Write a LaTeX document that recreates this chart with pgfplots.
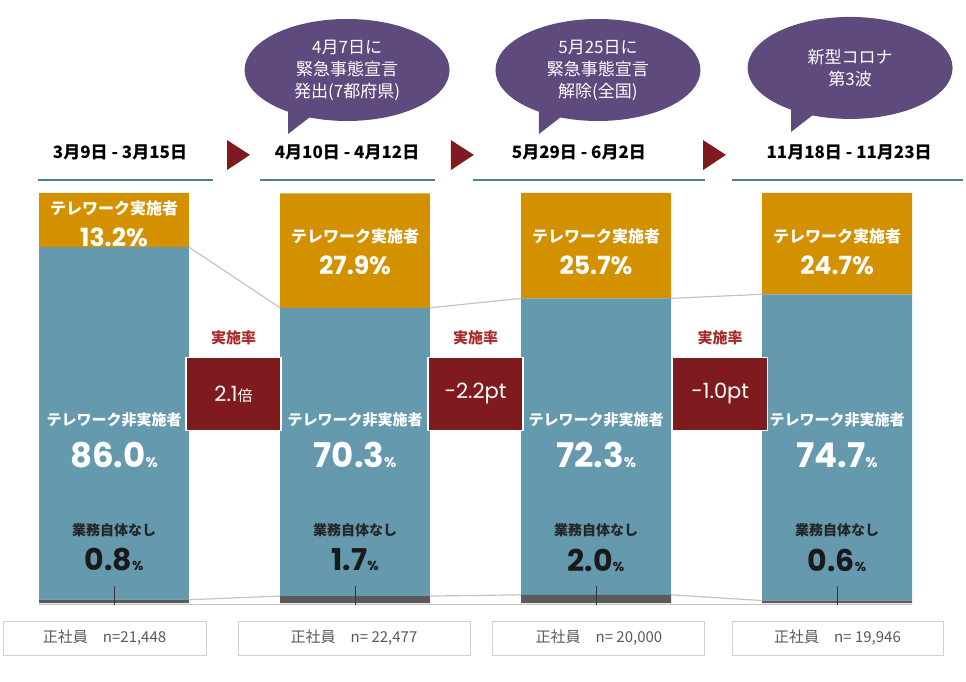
\documentclass[border=0pt]{standalone}
\usepackage{fontspec}
\usepackage{pgfplots}
\usepackage{pgfplotstable}
\pgfplotsset{compat=1.18}
\usetikzlibrary{shapes.geometric}
\setmainfont{Noto Sans CJK JP}
\newfontfamily\num{Poppins}

\definecolor{tworange}{HTML}{D39100}
\definecolor{twblue}{HTML}{6499AE}
\definecolor{twgray}{HTML}{5A5A5A}
\definecolor{boxred}{HTML}{7F1A1E}
\definecolor{bubble}{HTML}{5F4A7E}
\definecolor{rulec}{HTML}{4F8090}
\definecolor{lblred}{HTML}{A82B2B}
\definecolor{linkc}{HTML}{C4C4C4}
\definecolor{ntext}{HTML}{595959}

% share of regular employees (%): no work / not teleworking / teleworking
\pgfplotstableread{
x none nontw tw
0 0.8 86.0 13.2
1 1.7 70.3 27.9
2 2.0 72.3 25.7
3 0.6 74.7 24.7
}\shares

\pgfplotsset{canvas/.style={
  width=966pt, height=681pt, scale only axis,
  xmin=-0.473, xmax=3.535, ymin=-19.02, ymax=147.07,
  hide axis, clip=false}}

\newcommand{\fs}[2]{\fontsize{#1}{#2}\selectfont}

% speech bubble: centre x, centre y, text
\newcommand{\bubble}[3]{%
  \fill[bubble] ([shift={(-59pt,-30pt)}]axis cs:#1,#2) -- ([shift={(-59pt,-64pt)}]axis cs:#1,#2)
     -- ([shift={(-28pt,-40pt)}]axis cs:#1,#2) -- cycle;
  \node[ellipse, fill=bubble, minimum width=205pt, minimum height=102pt, inner sep=0pt,
        text=white, align=center, font=\fs{17}{22}] at (axis cs:#1,#2) {#3};}

% change box between two periods
\newcommand{\chg}[3]{%
  \node[text=lblred, font=\bfseries\fs{15}{18}] at (axis cs:#1,64.6) {実施率};
  \node[fill=boxred, draw=white, line width=1.5pt, minimum width=95pt, minimum height=73pt,
        text=white, inner sep=0pt] at (axis cs:#1,51.0) {#2#3};}

\begin{document}
\begin{tikzpicture}
\path (0,0) rectangle (966pt,681pt);
\begin{axis}[canvas, at={(0,0)}, anchor=south west, ybar stacked, bar width=0.622]
\addplot[fill=twgray, draw=none] table[x=x, y=none] {\shares};
\addplot[fill=twblue, draw=none] table[x=x, y=nontw] {\shares};
\addplot[fill=tworange, draw=none] table[x=x, y=tw] {\shares};
\end{axis}

\begin{axis}[canvas, at={(0,0)}, anchor=south west]
% links between the teleworking boundaries
\addplot[linkc, line width=1.2pt] coordinates {(0.311,86.8) (0.689,72.0)};
\addplot[linkc, line width=1.2pt] coordinates {(1.311,72.0) (1.689,74.3)};
\addplot[linkc, line width=1.2pt] coordinates {(2.311,74.3) (2.689,75.3)};
% links between the "no work" boundaries and the baseline
\addplot[linkc, line width=1.2pt] coordinates {(0.311,0.8) (0.689,1.7)};
\addplot[linkc, line width=1.2pt] coordinates {(1.311,1.7) (1.689,2.0)};
\addplot[linkc, line width=1.2pt] coordinates {(2.311,2.0) (2.689,0.6)};
\addplot[linkc, line width=1pt] coordinates {(-0.311,-0.4) (3.311,-0.4)};

% centre ticks
\draw[black!80, line width=1pt] (axis cs:0,-0.6) -- (axis cs:0,4.1);
\draw[black!80, line width=1pt] (axis cs:1,-0.6) -- (axis cs:1,4.1);
\draw[black!80, line width=1pt] (axis cs:2,-0.6) -- (axis cs:2,4.1);
\draw[black!80, line width=1pt] (axis cs:3,-0.6) -- (axis cs:3,4.1);

% periods
\node[font=\bfseries\fs{17}{20}] at (axis cs:0.025,109.8) {3月9日 - 3月15日};
\node[font=\bfseries\fs{17}{20}] at (axis cs:0.967,109.8) {4月10日 - 4月12日};
\node[font=\bfseries\fs{17}{20}] at (axis cs:1.929,109.8) {5月29日 - 6月2日};
\node[font=\bfseries\fs{17}{20}] at (axis cs:3.050,109.8) {11月18日 - 11月23日};
\draw[rulec, line width=1.6pt] (axis cs:-0.315,103.2) -- (axis cs:0.411,103.2);
\draw[rulec, line width=1.6pt] (axis cs:0.606,103.2) -- (axis cs:1.332,103.2);
\draw[rulec, line width=1.6pt] (axis cs:1.490,103.2) -- (axis cs:2.452,103.2);
\draw[rulec, line width=1.6pt] (axis cs:2.564,103.2) -- (axis cs:3.523,103.2);
\fill[boxred] (axis cs:0.469,112.9) -- (axis cs:0.469,105.6) -- (axis cs:0.564,109.3) -- cycle;
\fill[boxred] (axis cs:1.398,112.9) -- (axis cs:1.398,105.6) -- (axis cs:1.493,109.3) -- cycle;
\fill[boxred] (axis cs:2.444,112.9) -- (axis cs:2.444,105.6) -- (axis cs:2.539,109.3) -- cycle;

% events
\bubble{0.967}{130.0}{4月7日に\\緊急事態宣言\\発出(7都府県)}
\bubble{2.008}{130.0}{5月25日に\\緊急事態宣言\\解除(全国)}
\bubble{3.054}{130.5}{新型コロナ\\第3波}

% teleworking
\node[text=white, font=\bfseries\fs{16}{18}] at (axis cs:0,96.3) {テレワーク実施者};
\node[text=white, font=\num\bfseries\fs{25}{28}] at (axis cs:0,89.3) {13.2\%};
\node[text=white, font=\bfseries\fs{16}{18}] at (axis cs:1,89.5) {テレワーク実施者};
\node[text=white, font=\num\bfseries\fs{25}{28}] at (axis cs:1,82.4) {27.9\%};
\node[text=white, font=\bfseries\fs{16}{18}] at (axis cs:2,89.5) {テレワーク実施者};
\node[text=white, font=\num\bfseries\fs{25}{28}] at (axis cs:2,82.4) {25.7\%};
\node[text=white, font=\bfseries\fs{16}{18}] at (axis cs:3,89.5) {テレワーク実施者};
\node[text=white, font=\num\bfseries\fs{25}{28}] at (axis cs:3,82.4) {24.7\%};

% not teleworking
\node[text=white, font=\bfseries\fs{15}{18}] at (axis cs:0,44.6) {テレワーク非実施者};
\node[text=white, font=\num\bfseries\fs{34}{36}] at (axis cs:0,36.1) {86.0{\fs{14}{16}\%}};
\node[text=white, font=\bfseries\fs{15}{18}] at (axis cs:1,44.6) {テレワーク非実施者};
\node[text=white, font=\num\bfseries\fs{34}{36}] at (axis cs:1,36.1) {70.3{\fs{14}{16}\%}};
\node[text=white, font=\bfseries\fs{15}{18}] at (axis cs:2,44.6) {テレワーク非実施者};
\node[text=white, font=\num\bfseries\fs{34}{36}] at (axis cs:2,36.1) {72.3{\fs{14}{16}\%}};
\node[text=white, font=\bfseries\fs{15}{18}] at (axis cs:3,44.6) {テレワーク非実施者};
\node[text=white, font=\num\bfseries\fs{34}{36}] at (axis cs:3,36.1) {74.7{\fs{14}{16}\%}};

% no work at all
\node[text=black!85, font=\bfseries\fs{14}{16}] at (axis cs:0,17.8) {業務自体なし};
\node[text=black!90, font=\num\bfseries\fs{30}{32}] at (axis cs:0,10.5) {0.8{\fs{13}{15}\%}};
\node[text=black!85, font=\bfseries\fs{14}{16}] at (axis cs:1,17.8) {業務自体なし};
\node[text=black!90, font=\num\bfseries\fs{30}{32}] at (axis cs:1,10.5) {1.7{\fs{13}{15}\%}};
\node[text=black!85, font=\bfseries\fs{14}{16}] at (axis cs:2,17.8) {業務自体なし};
\node[text=black!90, font=\num\bfseries\fs{30}{32}] at (axis cs:2,10.5) {2.0{\fs{13}{15}\%}};
\node[text=black!85, font=\bfseries\fs{14}{16}] at (axis cs:3,17.8) {業務自体なし};
\node[text=black!90, font=\num\bfseries\fs{30}{32}] at (axis cs:3,10.5) {0.6{\fs{13}{15}\%}};

% changes in the teleworking rate
\chg{0.496}{{\num\fs{21}{24}2.1}}{{\fs{15}{18}倍}}
\chg{1.500}{{\num\fs{21}{24}-2.2pt}}{}
\chg{2.515}{{\num\fs{21}{24}-1.0pt}}{}

% sample sizes
\node[draw=black!18, line width=1pt, minimum width=203pt, minimum height=34pt, text=ntext, font=\fs{15}{18}] at (axis cs:-0.039,-8.54) {正社員\quad n=21,448};
\node[draw=black!18, line width=1pt, minimum width=232pt, minimum height=34pt, text=ntext, font=\fs{15}{18}] at (axis cs:0.996,-8.54) {正社員\quad n= 22,477};
\node[draw=black!18, line width=1pt, minimum width=212pt, minimum height=34pt, text=ntext, font=\fs{15}{18}] at (axis cs:2.012,-8.54) {正社員\quad n= 20,000};
\node[draw=black!18, line width=1pt, minimum width=211pt, minimum height=34pt, text=ntext, font=\fs{15}{18}] at (axis cs:3.002,-8.54) {正社員\quad n= 19,946};
\end{axis}
\end{tikzpicture}
\end{document}
